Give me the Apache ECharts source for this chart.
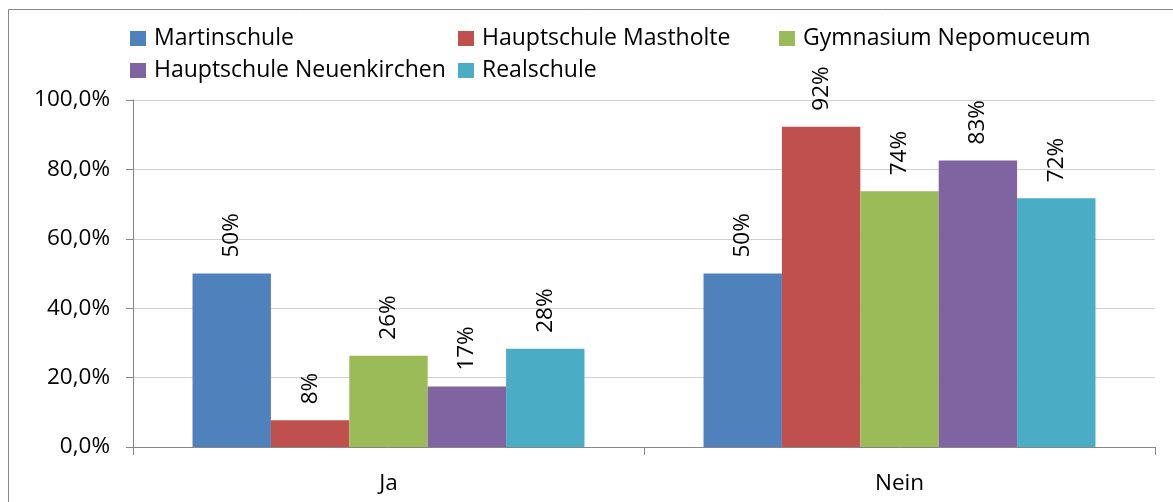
<!DOCTYPE html>
<html>
<head>
<meta charset="utf-8">
<script src="https://cdn.jsdelivr.net/npm/echarts@6/dist/echarts.min.js"></script>
<style>html,body{margin:0;padding:0;background:#fff}#c{width:1173px;height:502px}</style>
</head>
<body>
<div id="c"></div>
<script>
const categories = ['Ja', 'Nein'];
const seriesNames = ['Martinschule', 'Hauptschule Mastholte', 'Gymnasium Nepomuceum', 'Hauptschule Neuenkirchen', 'Realschule'];
const martinschule = [50.0, 50.0];
const hauptschuleMastholte = [7.7, 92.3];
const gymnasiumNepomuceum = [26.3, 73.7];
const hauptschuleNeuenkirchen = [17.4, 82.6];
const realschule = [28.3, 71.7];
const colors = ['#4F81BD', '#C0504D', '#9BBB59', '#8064A2', '#4BACC6'];
const FONT = 'Open Sans';
const FS = 22.5;

const values = [martinschule, hauptschuleMastholte, gymnasiumNepomuceum, hauptschuleNeuenkirchen, realschule];
const legendPos = [[130, 27], [458, 27], [779, 27], [130, 59], [458, 59]];

const chart = echarts.init(document.getElementById('c'));
chart.setOption({
  animation: false,
  backgroundColor: '#fff',
  textStyle: { fontFamily: FONT },
  graphic: [{
    type: 'rect', shape: { x: 8.5, y: 9.5, width: 1300, height: 700 },
    style: { fill: 'none', stroke: '#868686', lineWidth: 1 }, silent: true
  }],
  legend: seriesNames.map((n, i) => ({
    data: [n], left: legendPos[i][0], top: legendPos[i][1], icon: 'rect',
    itemWidth: 16, itemHeight: 15, padding: 0,
    textStyle: { fontFamily: FONT, fontSize: 23, color: '#000', padding: [0, 0, 0, 3] }
  })),
  grid: { left: 133, right: 18, top: 100, bottom: 55, containLabel: false, outerBoundsMode: 'none' },
  xAxis: {
    type: 'category', data: categories,
    axisLine: { lineStyle: { color: '#868686', width: 1 } },
    axisTick: { show: true, length: 8, lineStyle: { color: '#868686' } },
    axisLabel: { fontFamily: FONT, fontSize: FS, color: '#000', margin: 25 }
  },
  yAxis: {
    type: 'value', min: 0, max: 100, interval: 20,
    axisLine: { show: true, lineStyle: { color: '#868686', width: 1 } },
    axisTick: { show: true, length: 7, lineStyle: { color: '#868686' } },
    splitLine: { lineStyle: { color: '#d0d0d0', width: 1 } },
    axisLabel: { fontFamily: FONT, fontSize: FS, color: '#000', margin: 23,
      formatter: v => v.toFixed(1).replace('.', ',') + '%' }
  },
  series: seriesNames.map((n, i) => ({
    name: n, type: 'bar', data: values[i],
    itemStyle: { color: colors[i] },
    barGap: '0%', barCategoryGap: '23.3%',
    label: { show: true, position: 'top', rotate: 90, align: 'left', verticalAlign: 'middle',
      distance: 16, fontFamily: FONT, fontSize: FS, color: '#000',
      formatter: p => Math.round(p.value) + '%' }
  }))
});
</script>
</body>
</html>
